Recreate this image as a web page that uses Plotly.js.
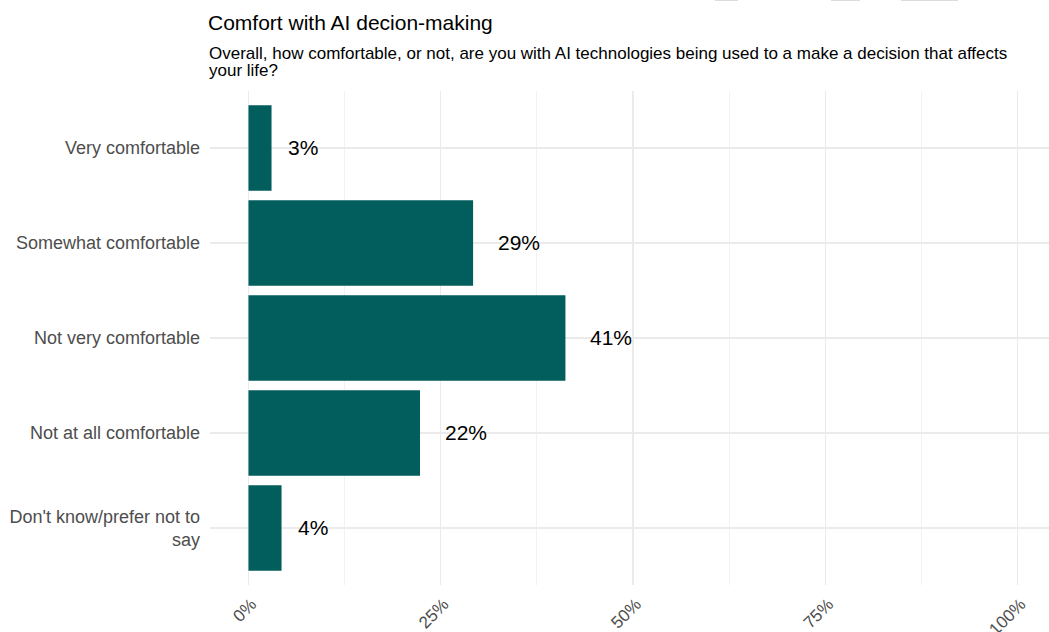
<!DOCTYPE html>
<html>
<head>
<meta charset="utf-8">
<script src="https://cdn.plot.ly/plotly-3.0.1.min.js"></script>
<style>html,body{margin:0;padding:0;background:#fff;}#chart{width:1049px;height:632px;}</style>
</head>
<body>
<div id="chart"></div>
<script>
// ---- data ----
const categories = ["Very comfortable", "Somewhat comfortable", "Not very comfortable", "Not at all comfortable", "Don't know/prefer not to<br>say"];
const values = [3.0, 29.2, 41.2, 22.3, 4.3];
const valueLabels = ["3%", "29%", "41%", "22%", "4%"];
const tickValues = [0, 25, 50, 75, 100];
const tickLabels = ["0%", "25%", "50%", "75%", "100%"];
const titleText = "Comfort with AI decion-making";
const subtitleLines = ["Overall, how comfortable, or not, are you with AI technologies being used to a make a decision that affects", "your life?"];

const FONT = "Liberation Sans, Arial, sans-serif";
const BAR = "#025e5c";

const trace = {
  type: "bar",
  orientation: "h",
  x: values,
  y: categories.map((c, i) => i),
  width: 0.9,
  marker: {color: BAR, line: {width: 0}},
  hoverinfo: "skip"
};

const annotations = values.map((v, i) => ({
  x: v, y: i, xref: "x", yref: "y",
  text: valueLabels[i], showarrow: false,
  xanchor: "left", yanchor: "middle",
  xshift: valueLabels[i].length > 2 ? 23 : 14,
  yshift: 1,
  font: {family: FONT, size: 21, color: "#000000"}
}));
// subtitle lines (tight line spacing as in the reference)
const PLOT_TOP = 91, PLOT_H = 494;
const lineCentres = [54, 70];
subtitleLines.forEach((t, k) => {
  annotations.push({
    xref: "paper", yref: "paper", x: 0, y: 1 + (PLOT_TOP - lineCentres[k]) / PLOT_H,
    xanchor: "left", yanchor: "middle", align: "left",
    xshift: -3,
    text: t, showarrow: false,
    font: {family: FONT, size: 17, color: "#000000"}
  });
});

const layout = {
  width: 1049, height: 632,
  margin: {l: 210, r: 0, t: 91, b: 47, pad: 0},
  paper_bgcolor: "#ffffff", plot_bgcolor: "#ffffff",
  showlegend: false,
  title: {
    text: titleText, xref: "container", yref: "container",
    x: 208/1049, xanchor: "left", y: 1 - 23/632, yanchor: "middle",
    font: {family: FONT, size: 21, color: "#000000"}
  },
  xaxis: {
    range: [-5, 104.06],
    tickvals: tickValues, ticktext: tickLabels,
    tickangle: -45,
    tickfont: {family: FONT, size: 17, color: "#4d4d4d"},
    showgrid: true, gridcolor: "#ebebeb", gridwidth: 1.4,
    minor: {dtick: 12.5, tick0: 0, showgrid: true, gridcolor: "#efefef", gridwidth: 0.8},
    zeroline: false, showline: false, ticks: "",
    ticklabelstandoff: 5,
    ticklabelshift: 3,
    fixedrange: true
  },
  yaxis: {
    range: [4.6, -0.6],
    tickvals: categories.map((c, i) => i), ticktext: categories,
    tickfont: {family: FONT, size: 18, color: "#4d4d4d"},
    showgrid: true, gridcolor: "#ebebeb", gridwidth: 1.4,
    zeroline: false, showline: false, ticks: "",
    ticklabelstandoff: 9,
    fixedrange: true
  },
  annotations: annotations,
  shapes: [
    {type: "rect", xref: "paper", yref: "paper", x0: (715-210)/839, x1: (738-210)/839, y0: 1 + 90/494, y1: 1 + 91/494, line: {width: 0}, fillcolor: "#dcdcdc"},
    {type: "rect", xref: "paper", yref: "paper", x0: (831-210)/839, x1: (860-210)/839, y0: 1 + 90/494, y1: 1 + 91/494, line: {width: 0}, fillcolor: "#dcdcdc"},
    {type: "rect", xref: "paper", yref: "paper", x0: (901-210)/839, x1: (958-210)/839, y0: 1 + 90/494, y1: 1 + 91/494, line: {width: 0}, fillcolor: "#dcdcdc"}
  ]
};

Plotly.newPlot("chart", [trace], layout, {displayModeBar: false, staticPlot: true});
</script>
</body>
</html>
